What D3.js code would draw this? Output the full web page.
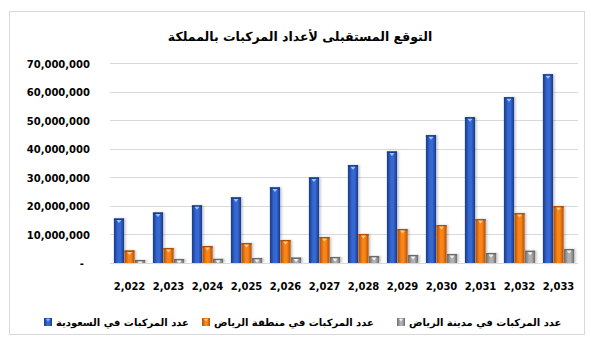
<!DOCTYPE html>
<html><head><meta charset="utf-8">
<script src="https://cdn.jsdelivr.net/npm/d3@7"></script>
<style>
html,body{margin:0;padding:0;background:#fff;}
svg{display:block;}
</style></head>
<body>
<svg id="c" width="591" height="356"></svg>
<script>
const title = "التوقع المستقبلى لأعداد المركبات بالمملكة";
const years = ["2,022","2,023","2,024","2,025","2,026","2,027","2,028","2,029","2,030","2,031","2,032","2,033"];
const seriesNames = ["عدد المركبات في السعودية","عدد المركبات في منطقة الرياض","عدد المركبات في مدينة الرياض"];
const saudi   = [15600000,17700000,20200000,23000000,26500000,30000000,34300000,39100000,44800000,51100000,58100000,66150000];
const region  = [4400000,5250000,5950000,7000000,8050000,9100000,10150000,11900000,13300000,15400000,17500000,19950000];
const city    = [1050000,1400000,1450000,1750000,1900000,2100000,2450000,2800000,3150000,3500000,4300000,4900000];
const yTicks = [0,10000000,20000000,30000000,40000000,50000000,60000000,70000000];
const yTickLabels = ["-","10,000,000","20,000,000","30,000,000","40,000,000","50,000,000","60,000,000","70,000,000"];

const colors = [
  {edge:"#1a3a88", mid:"#3468d2", light:"#9cc3ff"},
  {edge:"#b04e00", mid:"#fb8418", light:"#ffd08a"},
  {edge:"#6a6a6a", mid:"#b0b0b0", light:"#f2f2f2"}
];

const svg = d3.select("#c");
const defs = svg.append("defs");
colors.forEach((c,i)=>{
  const g = defs.append("linearGradient").attr("id","g"+i).attr("x1","0").attr("x2","1").attr("y1","0").attr("y2","0");
  g.append("stop").attr("offset","0%").attr("stop-color",c.edge);
  g.append("stop").attr("offset","40%").attr("stop-color",c.mid);
  g.append("stop").attr("offset","65%").attr("stop-color",c.mid);
  g.append("stop").attr("offset","100%").attr("stop-color",c.edge);
});
const f = defs.append("filter").attr("id","sh").attr("x","-30%").attr("y","-10%").attr("width","170%").attr("height","130%");
f.append("feDropShadow").attr("dx",1.5).attr("dy",0).attr("stdDeviation",1.2).attr("flood-color","#000").attr("flood-opacity",0.25);

// chart border
svg.append("rect").attr("x",9.5).attr("y",11.5).attr("width",575).attr("height",323)
  .attr("fill","#fff").attr("stroke","#d9d9d9").attr("stroke-width",1);

svg.append("text").attr("x",300).attr("y",41).attr("text-anchor","middle")
  .attr("font-family","DejaVu Sans").attr("font-weight","bold").attr("font-size",12.5)
  .attr("fill","#000").text(title);

const y = d3.scaleLinear().domain([0,70000000]).range([263,63.3]);
const x = d3.scaleBand().domain(years).range([110,578]).paddingInner(0.2).paddingOuter(0.1);
const xs = d3.scaleBand().domain([0,1,2]).range([0,x.bandwidth()]).paddingInner(0.04);

// gridlines
svg.append("g").selectAll("line").data(yTicks.slice(1)).join("line")
  .attr("x1",110).attr("x2",578).attr("y1",d=>Math.round(y(d))+0.5).attr("y2",d=>Math.round(y(d))+0.5)
  .attr("stroke","#d9d9d9").attr("stroke-width",1);

// y axis labels
const yAxis = d3.axisLeft(y).tickValues(yTicks).tickSize(0).tickFormat((d,i)=>yTickLabels[i]);
const ya = svg.append("g").attr("transform","translate(90,0)").call(yAxis);
ya.select(".domain").remove();
ya.selectAll("text").attr("font-family","DejaVu Sans").attr("font-weight","bold").attr("font-size",10)
  .attr("fill","#000").attr("x",0).attr("dy",null).attr("dominant-baseline","auto")
  .attr("y",3.8);
ya.selectAll(".tick").filter(d=>d===0).select("text").attr("x",-6);

// bars
const data = [saudi, region, city];
const groups = svg.append("g").selectAll("g").data(years).join("g")
  .attr("transform",d=>`translate(${x(d)},0)`);
data.forEach((vals,si)=>{
  groups.append("rect")
    .attr("x",xs(si)).attr("width",xs.bandwidth())
    .attr("y",(d,i)=>y(vals[i])).attr("height",(d,i)=>y(0)-y(vals[i]))
    .attr("fill",`url(#g${si})`).attr("filter","url(#sh)");
  groups.append("rect")
    .attr("x",xs(si)).attr("width",xs.bandwidth())
    .attr("y",(d,i)=>y(vals[i])).attr("height",1.5)
    .attr("fill",colors[si].edge);
  groups.append("path")
    .attr("d",(d,i)=>{
      const x0 = xs(si), w = xs.bandwidth(), t = y(vals[i])+1.5;
      return `M${x0+w*0.25},${t}L${x0+w*0.75},${t}L${x0+w*0.5},${t+3}Z`;
    })
    .attr("fill",colors[si].light);
});

// baseline
svg.append("line").attr("x1",110).attr("x2",578).attr("y1",263.5).attr("y2",263.5)
  .attr("stroke","#d9d9d9").attr("stroke-width",1);

// x axis labels
const xAxis = d3.axisBottom(x).tickSize(0);
const xa = svg.append("g").attr("transform","translate(0,263)").call(xAxis);
xa.select(".domain").remove();
xa.selectAll("text").attr("font-family","DejaVu Sans").attr("font-weight","bold").attr("font-size",10)
  .attr("fill","#000").attr("dy",null).attr("y",27);

// legend
const legX = [44, 202, 397];
const leg = svg.append("g").selectAll("g").data(seriesNames).join("g")
  .attr("transform",(d,i)=>`translate(${legX[i]},318)`);
leg.append("rect").attr("width",8).attr("height",8).attr("fill",(d,i)=>`url(#g${i})`);
leg.append("path").attr("d","M2,1L6,1L4,3.5Z").attr("fill",(d,i)=>colors[i].light);
leg.append("text").attr("x",12).attr("y",8).attr("font-family","DejaVu Sans").attr("font-weight","bold")
  .attr("font-size",10).attr("fill","#000").attr("text-anchor","start")
  .text(d=>d);
</script>
</body></html>
